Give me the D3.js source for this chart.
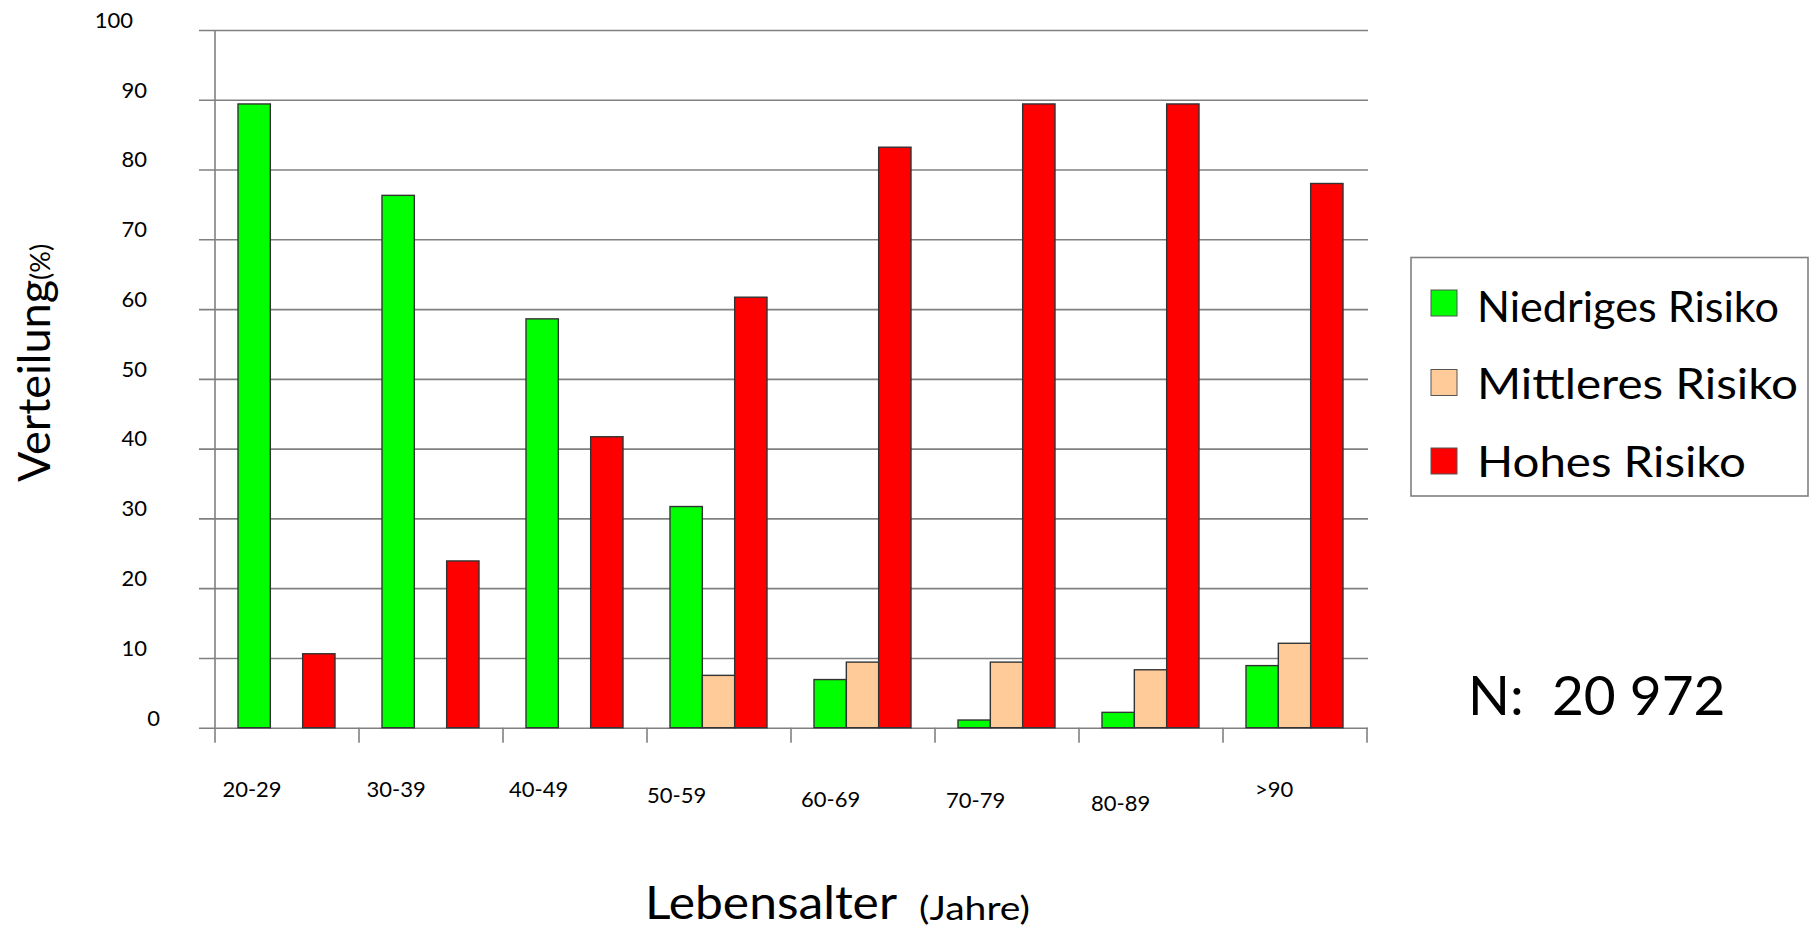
<!DOCTYPE html>
<html>
<head>
<meta charset="utf-8">
<script src="https://cdn.jsdelivr.net/npm/d3@7"></script>
<style>
  html, body { margin: 0; padding: 0; background: #fff; }
  svg { display: block; font-family: Lato, "Open Sans", sans-serif; }
</style>
</head>
<body>
<svg id="chart" width="1819" height="931"></svg>
<script>
// Age groups and risk shares (% of patients per age group)
const categories = ["20-29", "30-39", "40-49", "50-59", "60-69", "70-79", "80-89", ">90"];
const seriesNames = ["Niedriges Risiko", "Mittleres Risiko", "Hohes Risiko"];
const niedrig = [89.4, 76.3, 58.6, 31.7, 6.9, 1.1, 2.2, 8.9];
const mittel  = [null, null, null, 7.5, 9.4, 9.4, 8.3, 12.1];
const hoch    = [10.6, 23.9, 41.7, 61.7, 83.2, 89.4, 89.4, 78.0];
const yTicks  = [0, 10, 20, 30, 40, 50, 60, 70, 80, 90, 100];
const sampleLabel = "N:  20 972";

// ---- layout ----
const colors = ["#00ff00", "#ffcc99", "#ff0000"];
const plot = { left: 215, right: 1367, top: 30, bottom: 727.7, gridLeft: 199, gridRight: 1368 };
const groupInset = [23, 120];               // bar group span inside each age band
const yLabelShift = { 100: -14, 0: 13 };    // hand-set label offsets
const xLabelDx = [7.4, 7.6, 6, 0, 10, 11, 12, 32];
const xLabelDy = [0, 0, 0, 6, 10, 11, 14, 0];
const legendSwatchY = [290, 369.5, 448];
const legendBaseline = [322, 399, 477];
const legendTextWidth = [302, 321, 269];

const svg = d3.select("#chart");

const x0 = d3.scaleBand().domain(categories).range([plot.left, plot.right]).padding(0);
const x1 = d3.scaleBand().domain(seriesNames).range(groupInset).padding(0);
const y = d3.scaleLinear().domain([0, 100]).range([plot.bottom, plot.top]);

// Horizontal gridlines with value labels
const yAxis = d3.axisLeft(y)
  .tickValues(yTicks)
  .tickSize(-(plot.gridRight - plot.gridLeft))
  .tickFormat(d3.format("d"));

const gy = svg.append("g")
  .attr("transform", `translate(${plot.gridLeft},0)`)
  .call(yAxis);
gy.select(".domain").remove();
gy.selectAll(".tick line").attr("stroke", "#808080").attr("stroke-width", 1.6);
gy.selectAll(".tick text")
  .attr("x", d => -52 + (yLabelShift[d] || 0))
  .attr("dy", "-0.12em")
  .attr("fill", "#000")
  .style("font-size", "22px")
  .style("font-family", "Lato, sans-serif")
  .attr("text-anchor", "end");

// Vertical axis line
svg.append("line")
  .attr("x1", plot.left).attr("x2", plot.left)
  .attr("y1", y(100)).attr("y2", plot.bottom + 15)
  .attr("stroke", "#808080").attr("stroke-width", 1.6);

// Category boundary ticks below the baseline
const boundaries = categories.map(c => x0(c)).concat([x0.range()[1]]);
svg.append("g").selectAll("line")
  .data(boundaries.slice(1))
  .join("line")
  .attr("x1", d => d).attr("x2", d => d)
  .attr("y1", plot.bottom).attr("y2", plot.bottom + 15)
  .attr("stroke", "#808080").attr("stroke-width", 1.6);

// Bars
const seriesValues = [niedrig, mittel, hoch];
const rows = [];
categories.forEach((c, i) => {
  seriesNames.forEach((s, j) => {
    const v = seriesValues[j][i];
    if (v != null) rows.push({ c, s, v, color: colors[j] });
  });
});

svg.append("g").selectAll("rect")
  .data(rows)
  .join("rect")
  .attr("x", d => x0(d.c) + x1(d.s))
  .attr("width", x1.bandwidth())
  .attr("y", d => y(d.v))
  .attr("height", d => y(0) - y(d.v))
  .attr("fill", d => d.color)
  .attr("stroke", "#333")
  .attr("stroke-width", 1.4);

// Category labels
svg.append("g").selectAll("text")
  .data(categories)
  .join("text")
  .attr("x", (d, i) => x0(d) + xLabelDx[i])
  .attr("y", (d, i) => 797 + xLabelDy[i])
  .style("font-size", "22px")
  .text(d => d);

// Axis titles
const yTitle = svg.append("text")
  .attr("transform", "translate(50,482) rotate(-90)")
  .style("font-size", "45px");
yTitle.append("tspan").text("Verteilung");
yTitle.append("tspan").style("font-size", "27px").text("(%)");

svg.append("text")
  .attr("x", 645).attr("y", 919)
  .style("font-size", "46px")
  .attr("textLength", 252).attr("lengthAdjust", "spacingAndGlyphs")
  .text("Lebensalter");
svg.append("text")
  .attr("x", 919).attr("y", 920)
  .style("font-size", "32px")
  .attr("textLength", 111).attr("lengthAdjust", "spacingAndGlyphs")
  .text("(Jahre)");

// Legend
const legend = svg.append("g");
legend.append("rect")
  .attr("x", 1411).attr("y", 257.5).attr("width", 397).attr("height", 238.5)
  .attr("fill", "#fff").attr("stroke", "#808080").attr("stroke-width", 1.6);
const items = legend.selectAll("g.item")
  .data(seriesNames)
  .join("g").attr("class", "item");
items.append("rect")
  .attr("x", 1431).attr("y", (d, i) => legendSwatchY[i])
  .attr("width", 26).attr("height", 26)
  .attr("fill", (d, i) => colors[i])
  .attr("stroke", "#555").attr("stroke-width", 1);
items.append("text")
  .attr("x", 1477).attr("y", (d, i) => legendBaseline[i])
  .style("font-size", "43px")
  .attr("textLength", (d, i) => legendTextWidth[i])
  .attr("lengthAdjust", "spacingAndGlyphs")
  .text(d => d);

// Sample size
svg.append("text")
  .attr("x", 1468).attr("y", 715)
  .style("font-size", "55px")
  .attr("xml:space", "preserve")
  .style("white-space", "pre")
  .text(sampleLabel);
</script>
</body>
</html>
